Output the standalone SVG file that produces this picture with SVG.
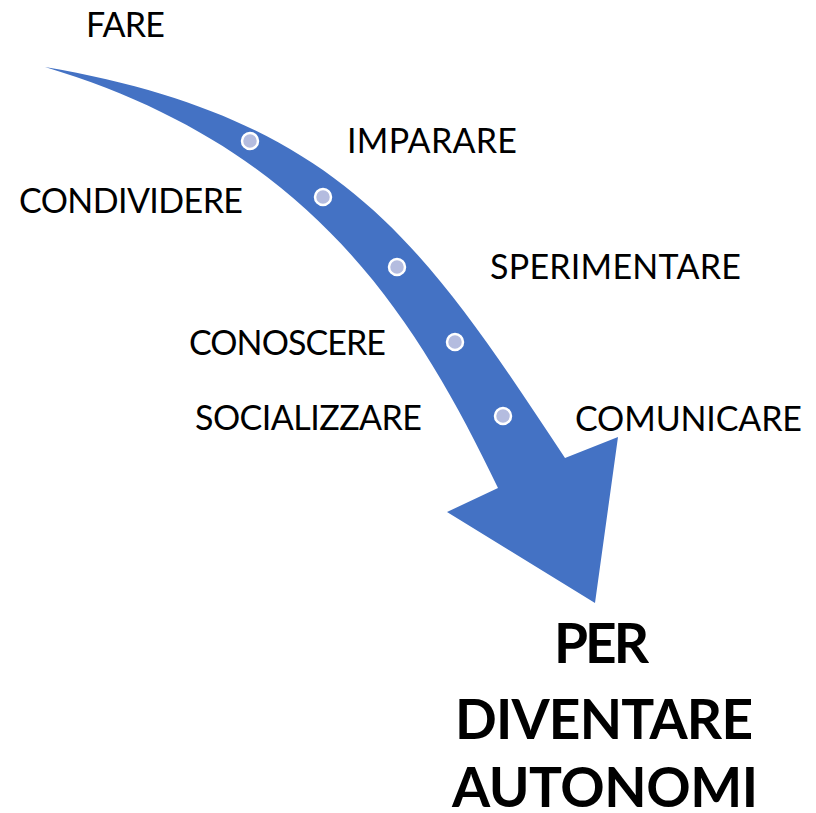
<svg xmlns="http://www.w3.org/2000/svg" width="816" height="813" viewBox="0 0 816 813">
<style>
.lbl{font-family:Lato,"Open Sans","Liberation Sans",sans-serif;font-size:34px;fill:#000}
.big{font-family:Lato,"Open Sans","Liberation Sans",sans-serif;font-size:55px;font-weight:bold;fill:#000}
.dot{fill:#B4BCDF;stroke:#fff;stroke-width:2.5}
</style>
<rect width="816" height="813" fill="#fff"/>
<g id="connectors">
<path id="arrow" d="M45,67 C345,118 427,250 565,458 L618,437 L595,603 L447,512 L498,488 C412,308 305,145 45,67 Z" fill="#4472C4"/>
</g>
<g id="dots">
<circle class="dot" cx="250" cy="141" r="8"/>
<circle class="dot" cx="323" cy="197" r="8"/>
<circle class="dot" cx="397" cy="267" r="8"/>
<circle class="dot" cx="455" cy="342" r="8"/>
<circle class="dot" cx="503" cy="416" r="8"/>
</g>
<g id="fare"><text class="lbl" x="86" y="37" textLength="79" lengthAdjust="spacing">FARE</text></g>
<g id="imparare"><text class="lbl" x="347" y="153" textLength="170" lengthAdjust="spacing">IMPARARE</text></g>
<g id="condividere"><text class="lbl" x="19" y="213" textLength="224" lengthAdjust="spacing">CONDIVIDERE</text></g>
<g id="sperimentare"><text class="lbl" x="490" y="279" textLength="251" lengthAdjust="spacing">SPERIMENTARE</text></g>
<g id="conoscere"><text class="lbl" x="189" y="355" textLength="197" lengthAdjust="spacing">CONOSCERE</text></g>
<g id="socializzare"><text class="lbl" x="195" y="430" textLength="227" lengthAdjust="spacing">SOCIALIZZARE</text></g>
<g id="comunicare"><text class="lbl" x="575" y="431" textLength="227" lengthAdjust="spacing">COMUNICARE</text></g>
<g id="goal">
<text class="big" x="554" y="663" textLength="95" lengthAdjust="spacing">PER</text>
<text class="big" x="455" y="739" textLength="298" lengthAdjust="spacing">DIVENTARE</text>
<text class="big" x="452" y="807" textLength="306" lengthAdjust="spacing">AUTONOMI</text>
</g>
</svg>
